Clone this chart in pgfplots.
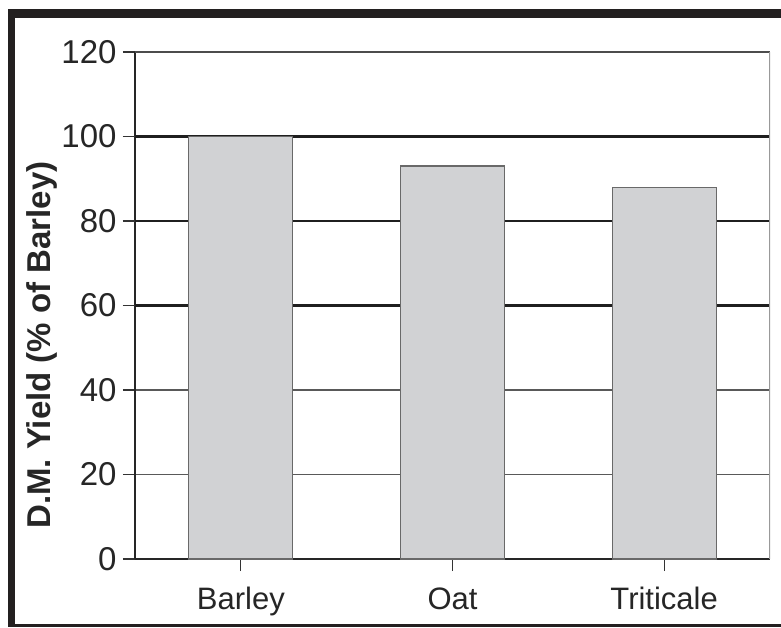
\documentclass[border=0pt]{standalone}
\usepackage{pgfplots}
\pgfplotsset{compat=1.18}
\usepackage{fontspec}
\setmainfont{Liberation Sans}
\definecolor{barfill}{RGB}{209,210,212}
\definecolor{baredge}{RGB}{105,105,105}
\definecolor{frame}{RGB}{35,32,32}
\begin{document}
\begin{tikzpicture}[x=1pt,y=1pt]
\path[use as bounding box] (0,0) rectangle (781,627);
\fill[frame] (8,0) rectangle (15,618);
\fill[frame] (8,609) rectangle (781,618);
\fill[frame] (8,0) rectangle (781,3);
\begin{axis}[
  at={(135pt,68pt)}, anchor=south west,
  width=635pt, height=507pt, scale only axis,
  xmin=-0.5, xmax=2.5, ymin=0, ymax=120,
  ytick={0,20,...,120},
  xtick=data, xticklabels={Barley,Oat,Triticale},
  axis x line*=bottom, axis y line*=left,
  axis line style={draw=black!85, line width=1.3pt},
  tick align=outside, major tick length=12pt,
  tick style={draw=black!80, line width=1.3pt},
  ymajorgrids, major grid style={draw=black!65, line width=1.4pt},
  extra y ticks={60,80,100}, extra y tick labels={},
  extra y tick style={grid=major, major grid style={draw=black!88, line width=2.4pt}},
  /pgf/number format/assume math mode=true,
  xticklabel style={font=\fontsize{31}{36}\selectfont, text=black!85, yshift=-13pt},
  yticklabel style={font=\fontsize{33}{38}\selectfont, text=black!85, xshift=-3pt},
  ylabel={D.M. Yield (\% of Barley)},
  ylabel style={at={(axis description cs:-0.1465,0.422)}, anchor=center, font=\bfseries\fontsize{33}{38}\selectfont, text=black!85},
  ybar, bar width=104pt, bar shift=0pt,
]
\addplot[fill=barfill, draw=baredge, line width=1.2pt] coordinates {(0,100) (1,93) (2,88)};
\draw[black!70, line width=1.3pt] (rel axis cs:0,1) -- (rel axis cs:1,1);
\draw[black!40, line width=1.3pt] (rel axis cs:1,0) -- (rel axis cs:1,1);
\end{axis}
\end{tikzpicture}
\end{document}
